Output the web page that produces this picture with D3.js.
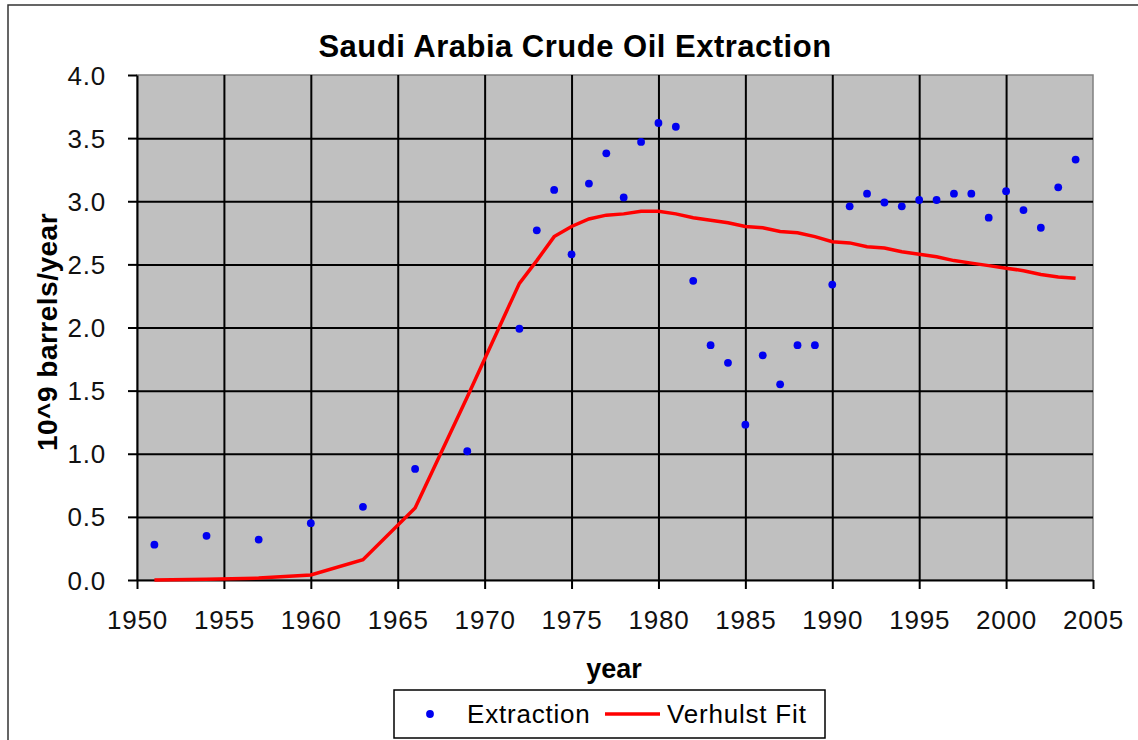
<!DOCTYPE html>
<html>
<head>
<meta charset="utf-8">
<script src="https://cdn.jsdelivr.net/npm/d3@7"></script>
<style>
  body { margin: 0; background: #fff; }
  text { font-family: "Liberation Sans", Arial, sans-serif; }
</style>
</head>
<body>
<script>
// data
const years = [1951, 1954, 1957, 1960, 1963, 1966, 1969, 1972, 1973, 1974, 1975, 1976, 1977, 1978, 1979,
  1980, 1981, 1982, 1983, 1984, 1985, 1986, 1987, 1988, 1989, 1990, 1991, 1992, 1993, 1994,
  1995, 1996, 1997, 1998, 1999, 2000, 2001, 2002, 2003, 2004];
const extraction = [0.28, 0.35, 0.32, 0.45, 0.58, 0.88, 1.02, 1.99, 2.77, 3.09, 2.58, 3.14, 3.38, 3.03, 3.47,
  3.62, 3.59, 2.37, 1.86, 1.72, 1.23, 1.78, 1.55, 1.86, 1.86, 2.34, 2.96, 3.06, 2.99, 2.96,
  3.01, 3.01, 3.06, 3.06, 2.87, 3.08, 2.93, 2.79, 3.11, 3.33];
const verhulstFit = [0.00, 0.005, 0.015, 0.04, 0.16, 0.57, 1.45, 2.35, 2.53, 2.72, 2.80, 2.86, 2.89, 2.90, 2.92,
  2.92, 2.90, 2.87, 2.85, 2.83, 2.80, 2.79, 2.76, 2.75, 2.72, 2.68, 2.67, 2.64, 2.63, 2.60,
  2.58, 2.56, 2.53, 2.51, 2.49, 2.47, 2.45, 2.42, 2.40, 2.39];
const xTicks = d3.range(1950, 2006, 5);
const yTicks = d3.range(0, 4.01, 0.5);

const width = 1138;
const height = 740;
const plot = {left: 137, top: 75, right: 1093, bottom: 580};

let svg = d3.select("body").append("svg")
  .attr("width", width)
  .attr("height", height);

//outer chart frame
svg.append("rect")
  .attr("x", 8).attr("y", 5)
  .attr("width", 1300).attr("height", 900)
  .attr("fill", "#fff")
  .attr("stroke", "#333").attr("stroke-width", 1.5);

let x = d3.scaleLinear().domain([1950, 2005]).range([plot.left, plot.right]);
let y = d3.scaleLinear().domain([0, 4]).range([plot.bottom, plot.top]);

//plot background
svg.append("rect")
  .attr("x", plot.left).attr("y", plot.top)
  .attr("width", plot.right - plot.left).attr("height", plot.bottom - plot.top)
  .attr("fill", "#c0c0c0")
  .attr("stroke", "#808080").attr("stroke-width", 1.5);

//grid lines
let gridX = svg.append("g")
  .attr("transform", "translate(0," + plot.bottom + ")")
  .call(d3.axisBottom(x).tickValues(xTicks.slice(1, -1)).tickSize(-(plot.bottom - plot.top)).tickFormat(""));
gridX.select(".domain").remove();
gridX.selectAll("line").attr("stroke", "#000").attr("stroke-width", 2);

let gridY = svg.append("g")
  .attr("transform", "translate(" + plot.left + ",0)")
  .call(d3.axisLeft(y).tickValues(yTicks.slice(1, -1)).tickSize(-(plot.right - plot.left)).tickFormat(""));
gridY.select(".domain").remove();
gridY.selectAll("line").attr("stroke", "#000").attr("stroke-width", 2);

//axes
let xAxis = svg.append("g")
  .attr("transform", "translate(0," + plot.bottom + ")")
  .call(d3.axisBottom(x).tickValues(xTicks).tickSize(9).tickSizeOuter(0).tickPadding(22).tickFormat(d3.format("d")));
let yAxis = svg.append("g")
  .attr("transform", "translate(" + plot.left + ",0)")
  .call(d3.axisLeft(y).tickValues(yTicks).tickSize(9).tickSizeOuter(0).tickPadding(22).tickFormat(d3.format(".1f")));

[xAxis, yAxis].forEach(function(a){
  a.select(".domain").attr("stroke", "#000").attr("stroke-width", 2);
  a.selectAll(".tick line").attr("stroke", "#000").attr("stroke-width", 2);
  a.selectAll("text")
    .attr("fill", "#111")
    .style("font-size", "26px")
    .style("letter-spacing", "0.8px")
    .style("font-family", "'Liberation Sans', Arial, sans-serif");
});
xAxis.selectAll("text").attr("dy", "0.71em");
yAxis.selectAll("text").attr("dy", "0.35em");

//fit line
let line = d3.line()
  .x((d, i) => x(years[i]))
  .y(d => y(d));

svg.append("path")
  .datum(verhulstFit)
  .attr("fill", "none")
  .attr("stroke", "#ff0000")
  .attr("stroke-width", 3.5)
  .attr("d", line);

//extraction points
svg.append("g").selectAll("circle")
  .data(extraction)
  .enter().append("circle")
    .attr("cx", (d, i) => x(years[i]))
    .attr("cy", d => y(d))
    .attr("r", 3.9)
    .attr("fill", "#0000f0");

//title
svg.append("text")
  .attr("x", (plot.left + plot.right) / 2 - 40)
  .attr("y", 57)
  .attr("text-anchor", "middle")
  .style("font-size", "31px")
  .style("font-weight", "bold")
  .style("letter-spacing", "0.5px")
  .text("Saudi Arabia Crude Oil Extraction");

//axis titles
svg.append("text")
  .attr("x", 614)
  .attr("y", 678)
  .attr("text-anchor", "middle")
  .style("font-size", "27px")
  .style("font-weight", "bold")
  .text("year");

svg.append("text")
  .attr("transform", "translate(57,332) rotate(-90)")
  .attr("text-anchor", "middle")
  .style("font-size", "28px")
  .style("font-weight", "bold")
  .style("letter-spacing", "0.5px")
  .text("10^9 barrels/year");

//legend
let legend = svg.append("g");
legend.append("rect")
  .attr("x", 394).attr("y", 690)
  .attr("width", 431).attr("height", 48)
  .attr("fill", "#fff")
  .attr("stroke", "#000").attr("stroke-width", 1.5);
legend.append("circle")
  .attr("cx", 430).attr("cy", 714).attr("r", 3.9)
  .attr("fill", "#0000f0");
legend.append("text")
  .attr("x", 467).attr("y", 723)
  .style("font-size", "26px")
  .style("letter-spacing", "0.8px")
  .text("Extraction");
legend.append("line")
  .attr("x1", 605).attr("x2", 660)
  .attr("y1", 714).attr("y2", 714)
  .attr("stroke", "#ff0000").attr("stroke-width", 3.5);
legend.append("text")
  .attr("x", 667).attr("y", 723)
  .style("font-size", "26px")
  .style("letter-spacing", "0.8px")
  .text("Verhulst Fit");
</script>
</body>
</html>
